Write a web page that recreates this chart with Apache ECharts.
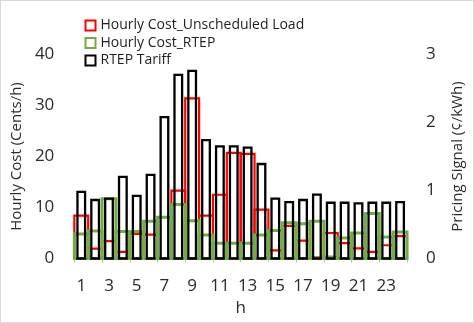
<!DOCTYPE html>
<html>
<head>
<meta charset="utf-8">
<script src="https://cdn.jsdelivr.net/npm/echarts@6/dist/echarts.min.js"></script>
<style>
html,body{margin:0;padding:0;background:#fff;}
#c{width:474px;height:323px;box-sizing:border-box;border:1px solid #d9d9d9;}
</style>
</head>
<body>
<div id="c"></div>
<script>
const hours = ['1','2','3','4','5','6','7','8','9','10','11','12','13','14','15','16','17','18','19','20','21','22','23','24'];
const costUnscheduled = [8.4, 1.95, 3.4, 1.3, 4.8, 4.7, 8.1, 13.3, 31.4, 8.4, 12.5, 20.7, 20.5, 9.6, 1.6, 6.4, 3.5, 0.2, 5.0, 3.0, 2.0, 1.3, 2.6, 4.4];
const costRTEP = [4.8, 5.4, 11.7, 5.3, 5.3, 7.3, 8.1, 10.6, 7.4, 4.6, 3.0, 3.0, 3.0, 4.6, 5.5, 7.0, 6.8, 7.3, 0.3, 4.0, 5.0, 8.8, 4.2, 5.2];
const rtepTariff = [0.98, 0.86, 0.88, 1.20, 0.92, 1.23, 2.08, 2.70, 2.76, 1.74, 1.65, 1.65, 1.63, 1.39, 0.88, 0.83, 0.86, 0.94, 0.82, 0.82, 0.81, 0.82, 0.82, 0.83];
const leftTicks = [0, 10, 20, 30, 40];
const rightTicks = [0, 1, 2, 3];

const FONT = '"Open Sans", "Noto Sans", sans-serif';
const TXT = '#2b2b2b';

// outlined bar drawn through the axis scales (stroke centred on the edges, like Excel)
function outlinedBar(color, lineWidth, widthRatio) {
  return function (params, api) {
    const i = api.value(0);
    const v = api.value(1);
    const top = api.coord([i, v]);
    const base = api.coord([i, 0]);
    const w = api.size([1, 0])[0] * widthRatio;
    return {
      type: 'rect',
      shape: {x: top[0] - w / 2, y: top[1], width: w, height: base[1] - top[1]},
      style: {fill: 'none', stroke: color, lineWidth: lineWidth}
    };
  };
}
const pairs = arr => arr.map((v, i) => [i, v]);

const chart = echarts.init(document.getElementById('c'), null, {renderer: 'canvas'});
chart.setOption({
  animation: false,
  textStyle: {fontFamily: FONT},
  grid: {left: 70, right: 62.5, top: 53.5, bottom: 63.5, containLabel: false},
  legend: {
    orient: 'vertical', left: 77, top: 12, itemWidth: 10, itemHeight: 10, itemGap: 2.5,
    textStyle: {fontFamily: FONT, fontSize: 14, color: '#1f1f1f'},
    data: [
      {name: 'Hourly Cost_Unscheduled Load', icon: 'rect', itemStyle: {color: 'none', borderColor: '#ff0000', borderWidth: 2}},
      {name: 'Hourly Cost_RTEP', icon: 'rect', itemStyle: {color: 'none', borderColor: '#70ad47', borderWidth: 2}},
      {name: 'RTEP Tariff', icon: 'rect', itemStyle: {color: 'none', borderColor: '#000000', borderWidth: 2}}
    ]
  },
  xAxis: [
    {
      type: 'category', data: hours, boundaryGap: true,
      name: 'h', nameLocation: 'middle', nameGap: 38,
      nameTextStyle: {fontFamily: FONT, fontSize: 17, color: TXT},
      axisLine: {lineStyle: {color: '#bfbfbf', width: 2}},
      axisTick: {show: true, length: 4, lineStyle: {color: '#bfbfbf', width: 1}},
      axisLabel: {interval: 1, fontSize: 17, color: TXT, margin: 19, fontFamily: FONT}
    }
  ],
  yAxis: [
    {
      type: 'value', min: 0, max: 40, interval: 10,
      name: 'Hourly Cost (Cents/h)', nameLocation: 'middle', nameGap: 43, nameRotate: 90,
      nameTextStyle: {fontFamily: FONT, fontSize: 15, color: TXT},
      axisLine: {show: false}, axisTick: {show: false}, splitLine: {show: false},
      axisLabel: {fontSize: 17, color: TXT, margin: 20, fontFamily: FONT,
        formatter: v => leftTicks.includes(v) ? String(v) : ''}
    },
    {
      type: 'value', min: 0, max: 3, interval: 1,
      name: 'Pricing Signal (¢/kWh)', nameLocation: 'middle', nameGap: 43, nameRotate: 90,
      nameTextStyle: {fontFamily: FONT, fontSize: 15, color: TXT, verticalAlign: 'top'},
      axisLine: {show: false}, axisTick: {show: false}, splitLine: {show: false},
      axisLabel: {fontSize: 17, color: TXT, margin: 19, fontFamily: FONT,
        formatter: v => rightTicks.includes(v) ? String(v) : ''}
    }
  ],
  series: [
    {
      name: 'Hourly Cost_Unscheduled Load', type: 'custom', coordinateSystem: 'cartesian2d',
      xAxisIndex: 0, yAxisIndex: 0, z: 2, encode: {x: 0, y: 1},
      itemStyle: {color: '#ff0000'},
      data: pairs(costUnscheduled), renderItem: outlinedBar('#ff0000', 2.2, 1)
    },
    {
      name: 'Hourly Cost_RTEP', type: 'custom', coordinateSystem: 'cartesian2d',
      xAxisIndex: 0, yAxisIndex: 0, z: 3, encode: {x: 0, y: 1},
      itemStyle: {color: '#70ad47'},
      data: pairs(costRTEP), renderItem: outlinedBar('#70ad47', 3, 1)
    },
    {
      name: 'RTEP Tariff', type: 'custom', coordinateSystem: 'cartesian2d',
      xAxisIndex: 0, yAxisIndex: 1, z: 4, encode: {x: 0, y: 1},
      itemStyle: {color: '#000000'},
      data: pairs(rtepTariff), renderItem: outlinedBar('#000000', 2.3, 0.55)
    }
  ]
});
</script>
</body>
</html>
